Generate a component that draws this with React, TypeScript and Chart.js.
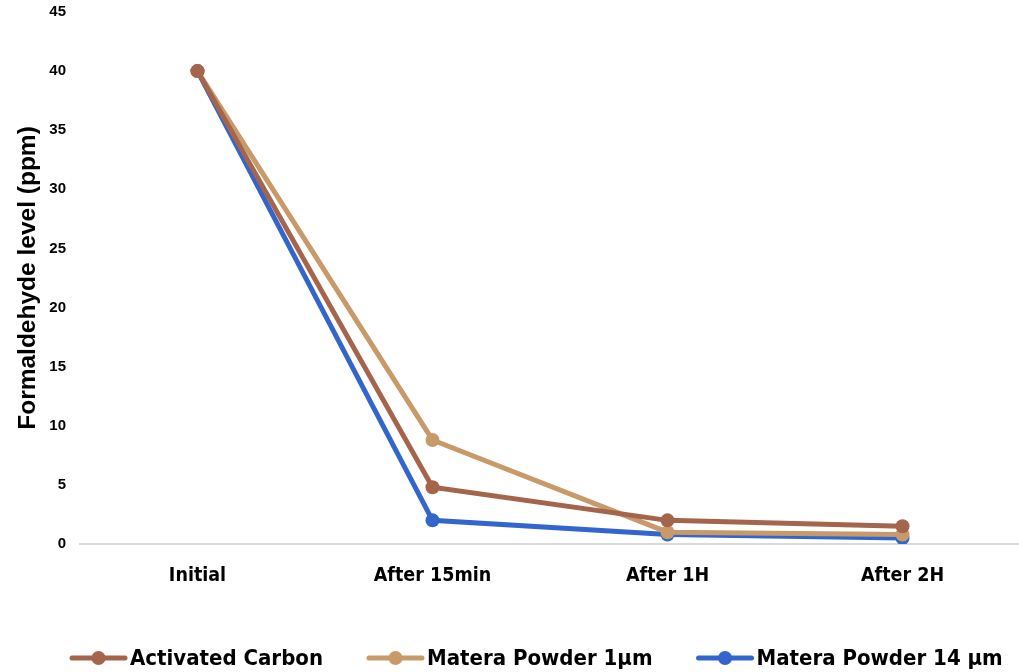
import React, { useEffect, useRef } from "react";
import { Chart, registerables } from "chart.js";

Chart.register(...registerables);

const categories = ["Initial", "After 15min", "After 1H", "After 2H"];
const activatedCarbon = [40, 4.8, 2.0, 1.5];
const materaPowder1 = [40, 8.8, 1.0, 0.8];
const materaPowder14 = [40, 2.0, 0.8, 0.5];
const seriesNames = ["Activated Carbon", "Matera Powder 1µm", "Matera Powder 14 µm"];
const seriesColors = ["#A5644C", "#C89A6A", "#3366CC"];
const yTicks = [0, 5, 10, 15, 20, 25, 30, 35, 40, 45];

const narrow = '"Liberation Sans Narrow", "DejaVu Sans Condensed", "Open Sans", sans-serif';
const arial = '"Liberation Sans", Arial, sans-serif';

const customLegend = {
  id: "customLegend",
  afterDraw(chart: any) {
    const ctx = chart.ctx;
    const y = 658;
    const lineLen = 57;
    const textGap = 3;
    const itemGap = 44;
    let x = 70;
    ctx.save();
    ctx.font = `bold 22px ${narrow}`;
    ctx.textBaseline = "middle";
    ctx.textAlign = "left";
    chart.data.datasets.forEach((ds: any) => {
      const color = ds.borderColor;
      ctx.strokeStyle = color;
      ctx.lineWidth = 5;
      ctx.lineCap = "round";
      ctx.beginPath();
      ctx.moveTo(x + 2, y);
      ctx.lineTo(x + lineLen - 2, y);
      ctx.stroke();
      ctx.fillStyle = color;
      ctx.beginPath();
      ctx.arc(x + lineLen / 2, y, 7, 0, Math.PI * 2);
      ctx.fill();
      ctx.fillStyle = "#000";
      const tx = x + lineLen + textGap;
      ctx.fillText(ds.label, tx, y + 1);
      const w = ctx.measureText(ds.label).width;
      x = tx + w + itemGap;
    });
    ctx.restore();
  },
};

export default function App() {
  const ref = useRef<HTMLCanvasElement>(null);
  useEffect(() => {
    if (!ref.current) return;
    const values = [activatedCarbon, materaPowder1, materaPowder14];
    const chart = new Chart(ref.current, {
      type: "line",
      data: {
        labels: categories,
        datasets: values.map((v, i) => ({
          label: seriesNames[i],
          data: v,
          borderColor: seriesColors[i],
          backgroundColor: seriesColors[i],
          borderWidth: 5,
          pointRadius: 7,
          pointHoverRadius: 7,
          pointBackgroundColor: seriesColors[i],
          pointBorderWidth: 0,
          tension: 0,
        })),
      },
      options: {
        animation: false,
        responsive: false,
        maintainAspectRatio: false,
        layout: { padding: { top: 12, right: 0, left: 0, bottom: 62 } },
        plugins: {
          tooltip: { enabled: false },
          legend: { display: false },
        },
        scales: {
          x: {
            type: "category",
            offset: true,
            grid: { display: false, drawTicks: false },
            border: { display: true, color: "#D9D9D9", width: 2 },
            ticks: {
              color: "#000",
              padding: 20,
              font: { family: narrow, size: 19.5, weight: "bold" },
            },
            afterFit: (s: any) => {
              s.height = 66;
              s.paddingLeft = 0;
              s.paddingRight = 0;
            },
          },
          y: {
            min: 0,
            max: 45,
            afterBuildTicks: (s: any) => {
              s.ticks = yTicks.map((v) => ({ value: v }));
            },
            grid: { display: false, drawTicks: false },
            border: { display: false },
            ticks: {
              color: "#000",
              padding: 14,
              font: { family: arial, size: 15, weight: "bold" },
            },
            title: {
              display: true,
              text: "Formaldehyde level (ppm)",
              color: "#000",
              font: { family: arial, size: 24.5, weight: "bold" },
              padding: { top: 14, bottom: 0 },
            },
            afterFit: (s: any) => {
              s.width = 80;
              s.paddingTop = 0;
              s.paddingBottom = 0;
            },
          },
        },
      },
      plugins: [customLegend],
    });
    return () => chart.destroy();
  }, []);
  return (
    <div
      style={{
        position: "fixed",
        left: 0,
        top: 0,
        width: 1019,
        height: 672,
        overflow: "hidden",
        background: "#fff",
      }}
    >
      <canvas ref={ref} width={1027} height={672} style={{ width: 1027, height: 672, display: "block" }} />
    </div>
  );
}
